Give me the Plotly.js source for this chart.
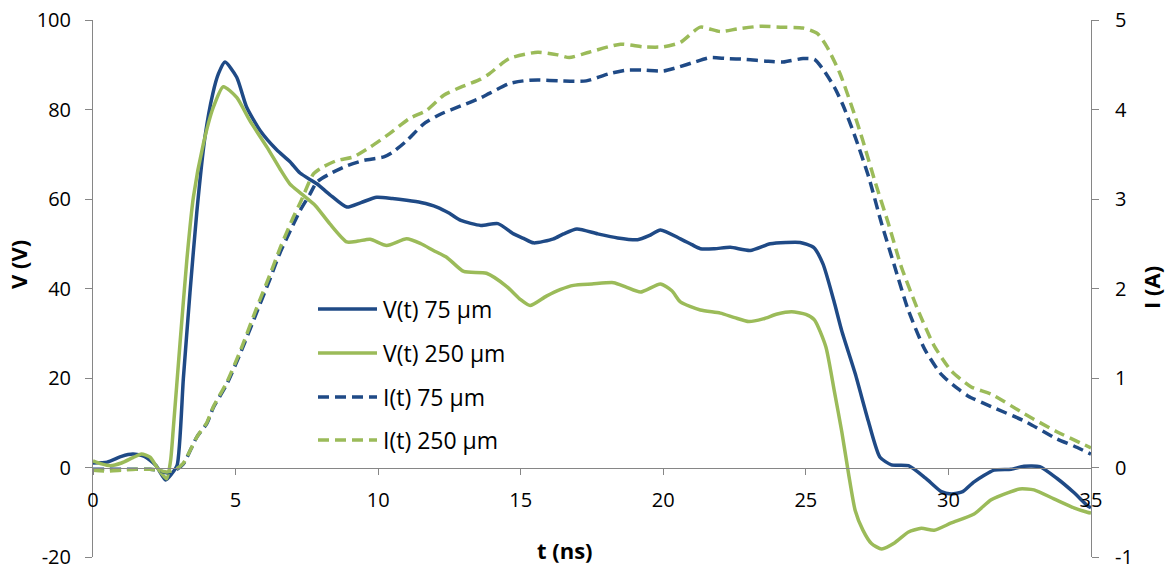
<!DOCTYPE html>
<html>
<head>
<meta charset="utf-8">
<script src="https://cdn.plot.ly/plotly-3.0.1.min.js"></script>
<style>html,body{margin:0;padding:0;background:#fff;}#chart{width:1166px;height:570px;}</style>
</head>
<body>
<div id="chart"></div>
<script>
// V(t) 75 µm
const tV75 = [0, 0.5, 1.0, 1.4, 1.8, 2.2, 2.55, 2.75, 2.95, 3.17, 3.4, 3.64, 3.93, 4.2, 4.4, 4.63, 5.04, 5.39, 5.86, 6.44, 6.9, 7.26, 7.85, 8.3, 8.9, 9.4, 9.95, 10.5, 11.0, 11.5, 12.06, 12.5, 12.9, 13.6, 14.2, 14.75, 15.1, 15.45, 16.15, 16.5, 16.97, 17.7, 18.4, 19.1, 19.5, 19.9, 20.6, 21.0, 21.3, 21.8, 22.35, 23.05, 23.75, 24.3, 24.8, 25.27, 25.6, 25.98, 26.26, 26.73, 27.19, 27.6, 28.0, 28.6, 29.2, 29.75, 30.1, 30.5, 30.9, 31.6, 32.2, 32.65, 33.2, 33.8, 34.4, 34.87, 35];
const V75 = [1.0, 1.2, 2.5, 3.0, 2.5, 0.5, -2.8, -1.5, 0.5, 20, 39, 57, 74, 83.5, 88, 90.6, 87.2, 80.5, 75.3, 71.0, 68.4, 65.8, 63.4, 61.0, 58.2, 59.2, 60.4, 60.1, 59.7, 59.2, 58.2, 56.8, 55.2, 54.1, 54.5, 52.2, 51.2, 50.2, 51.1, 52.2, 53.3, 52.2, 51.3, 50.9, 51.8, 53.1, 51.1, 49.8, 48.9, 48.9, 49.2, 48.5, 50.0, 50.3, 50.3, 49.2, 45.5, 37.3, 30.5, 21.0, 10.4, 2.3, 0.6, 0.4, -2.4, -5.4, -5.9, -5.4, -3.2, -0.6, -0.4, 0.3, 0.2, -2.4, -5.6, -8.5, -9.0];

// V(t) 250 µm
const tV250 = [0, 0.3, 0.6, 1.0, 1.4, 1.7, 2.0, 2.25, 2.58, 2.72, 2.82, 3.05, 3.29, 3.52, 3.87, 4.22, 4.57, 5.04, 5.5, 6.1, 6.56, 6.9, 7.3, 7.8, 8.3, 8.9, 9.3, 9.72, 10.3, 11.0, 11.5, 11.94, 12.4, 13.0, 13.8, 14.5, 15.0, 15.33, 15.9, 16.4, 16.85, 17.5, 18.26, 18.7, 19.2, 19.9, 20.3, 20.6, 21.3, 22.0, 22.5, 23.0, 23.5, 24.0, 24.5, 25.0, 25.3, 25.7, 26.0, 26.26, 26.5, 26.73, 27.0, 27.3, 27.66, 28.12, 28.6, 29.05, 29.5, 30.1, 30.9, 31.5, 32.1, 32.5, 33.0, 33.7, 34.4, 34.87, 35];
const V250 = [1.5, 0.8, 0.4, 1.0, 2.2, 3.0, 2.3, 0.0, -2.5, 1.5, 9, 27.6, 46.3, 60.4, 72.3, 80.5, 85.1, 82.7, 77.5, 71.6, 66.7, 63.4, 61.2, 58.5, 54.5, 50.4, 50.6, 51.0, 49.6, 51.1, 50.0, 48.5, 47.0, 43.8, 43.4, 40.5, 37.5, 36.2, 38.3, 39.8, 40.7, 41.0, 41.3, 40.3, 39.2, 41.0, 39.5, 37.0, 35.2, 34.5, 33.5, 32.6, 33.2, 34.3, 34.8, 34.2, 33.0, 27.0, 17.0, 8.0, -1.5, -9.6, -14.0, -17.0, -18.2, -16.8, -14.4, -13.6, -14.0, -12.4, -10.4, -7.2, -5.6, -4.8, -5.0, -7.0, -9.0, -10.0, -10.2];

// I(t) 75 µm
const tI75 = [0, 0.5, 1.0, 1.5, 2.0, 2.3, 2.6, 2.9, 3.17, 3.64, 3.99, 4.22, 4.69, 5.2, 5.7, 6.2, 6.56, 7.0, 7.26, 7.6, 7.85, 8.3, 8.9, 9.48, 10.2, 10.5, 11.0, 11.6, 12.2, 12.9, 13.6, 13.9, 14.6, 15.1, 15.6, 16.4, 17.3, 18.1, 18.7, 19.3, 20.0, 20.5, 21.1, 21.65, 22.2, 22.9, 23.6, 24.2, 24.9, 25.3, 25.6, 26.0, 26.3, 26.7, 27.2, 27.66, 28.12, 28.59, 29.17, 29.75, 30.33, 30.68, 31.5, 32.66, 33.8, 34.4, 35];
const I75 = [-0.02, -0.02, -0.02, -0.02, -0.02, -0.03, -0.06, -0.03, 0.04, 0.34, 0.49, 0.67, 0.93, 1.3, 1.7, 2.1, 2.4, 2.7, 2.87, 3.05, 3.19, 3.28, 3.37, 3.43, 3.47, 3.52, 3.65, 3.84, 3.95, 4.04, 4.13, 4.18, 4.29, 4.32, 4.33, 4.32, 4.32, 4.40, 4.44, 4.44, 4.43, 4.47, 4.53, 4.58, 4.57, 4.56, 4.54, 4.53, 4.57, 4.56, 4.45, 4.25, 4.05, 3.72, 3.25, 2.72, 2.24, 1.76, 1.32, 1.04, 0.88, 0.80, 0.68, 0.52, 0.32, 0.24, 0.15];

// I(t) 250 µm
const tI250 = [0, 0.5, 1.0, 1.5, 2.0, 2.3, 2.6, 2.9, 3.17, 3.64, 3.99, 4.22, 4.69, 5.2, 5.7, 6.2, 6.56, 7.0, 7.3, 7.73, 8.08, 8.55, 9.13, 9.72, 10.4, 11.1, 11.7, 12.3, 12.9, 13.6, 13.9, 14.6, 15.6, 16.3, 16.7, 17.4, 18.5, 19.3, 20.0, 20.6, 21.3, 22.0, 22.6, 23.4, 24.1, 24.9, 25.4, 25.74, 26.2, 26.7, 27.0, 27.42, 27.9, 28.35, 28.93, 29.5, 30.1, 30.8, 31.5, 32.66, 33.8, 35];
const I250 = [-0.03, -0.04, -0.03, -0.02, -0.02, -0.03, -0.05, -0.02, 0.05, 0.34, 0.5, 0.68, 0.95, 1.33, 1.75, 2.15, 2.45, 2.78, 2.98, 3.28, 3.36, 3.43, 3.47, 3.58, 3.73, 3.9, 3.99, 4.16, 4.25, 4.34, 4.4, 4.57, 4.64, 4.61, 4.58, 4.64, 4.73, 4.7, 4.7, 4.75, 4.92, 4.87, 4.9, 4.93, 4.92, 4.91, 4.85, 4.70, 4.4, 3.95, 3.65, 3.2, 2.72, 2.24, 1.76, 1.36, 1.08, 0.9, 0.82, 0.6, 0.4, 0.22];

const names = ["V(t) 75 µm", "V(t) 250 µm", "I(t) 75 µm", "I(t) 250 µm"];
const xTicks = [0, 5, 10, 15, 20, 25, 30, 35];
const vTicks = [-20, 0, 20, 40, 60, 80, 100];
const iTicks = [-1, 0, 1, 2, 3, 4, 5];

const BLUE = "#1F4A86";
const GREEN = "#9BBB59";
const FONT = "Open Sans, Liberation Sans, sans-serif";
const DASH = "11px,6px";
const styles = [
  {color: BLUE, dash: "solid"},
  {color: GREEN, dash: "solid"},
  {color: BLUE, dash: DASH},
  {color: GREEN, dash: DASH}
];
const series = [
  {x: tV75, y: V75, axis: "y"},
  {x: tV250, y: V250, axis: "y"},
  {x: tI75, y: I75, axis: "y2"},
  {x: tI250, y: I250, axis: "y2"}
];

// draw current (dashed) first, voltage on top
const order = [2, 3, 0, 1];
const traces = order.map(i => ({
  x: series[i].x, y: series[i].y, yaxis: series[i].axis, name: names[i], mode: "lines",
  showlegend: false,
  line: {color: styles[i].color, width: 3.5, dash: styles[i].dash, shape: "spline", smoothing: 0.6}
}));

// legend drawn as sample lines + text (paper coordinates)
const plotL = 93, plotW = 998, plotB = 557, plotH = 537;
const px2x = p => (p - plotL) / plotW;
const py2y = p => (plotB - p) / plotH;
const legendRows = [309, 353, 397, 440];
const shapes = names.map((n, i) => ({
  type: "line", xref: "paper", yref: "paper",
  x0: px2x(318), x1: px2x(377), y0: py2y(legendRows[i]), y1: py2y(legendRows[i]),
  line: {color: styles[i].color, width: 3.5, dash: styles[i].dash}
}));
const legendText = names.map((n, i) => ({
  text: n, xref: "paper", yref: "paper", x: px2x(381), y: py2y(legendRows[i]),
  xanchor: "left", yanchor: "middle", showarrow: false, font: {size: 23, color: "#000"}
}));

const axCol = "#868686";
const layout = {
  width: 1166, height: 570,
  margin: {l: 93, r: 75, t: 20, b: 13, pad: 0},
  paper_bgcolor: "#fff", plot_bgcolor: "#fff",
  font: {family: FONT, size: 20, color: "#000"},
  showlegend: false,
  xaxis: {range: [0, 35], tickvals: xTicks, ticktext: xTicks.map(String), anchor: "free", position: 1/6,
          showline: true, linecolor: axCol, linewidth: 1, ticks: "outside", ticklen: 6, tickcolor: axCol,
          showgrid: false, zeroline: false, ticklabelstandoff: 8, tickfont: {size: 20}},
  yaxis: {range: [-20, 100], tickvals: vTicks, ticktext: vTicks.map(String), showline: true, linecolor: axCol,
          linewidth: 1, ticks: "outside", ticklen: 7, tickcolor: axCol, showgrid: false, zeroline: false,
          ticklabelstandoff: 10, tickfont: {size: 20}},
  yaxis2: {range: [-1, 5], tickvals: iTicks, ticktext: iTicks.map(String), overlaying: "y", side: "right",
           showline: true, linecolor: axCol, linewidth: 1, ticks: "outside", ticklen: 7, tickcolor: axCol,
           showgrid: false, zeroline: false, ticklabelstandoff: 12, tickfont: {size: 20}},
  shapes: shapes,
  annotations: [
    {text: "<b>V (V)</b>", xref: "paper", yref: "paper", x: px2x(18), y: py2y(265), textangle: -90,
     showarrow: false, xanchor: "center", yanchor: "middle", font: {size: 22}},
    {text: "<b>I (A)</b>", xref: "paper", yref: "paper", x: px2x(1151), y: py2y(288), textangle: -90,
     showarrow: false, xanchor: "center", yanchor: "middle", font: {size: 22}},
    {text: "<b>t (ns)</b>", xref: "paper", yref: "paper", x: px2x(565), y: py2y(550),
     showarrow: false, xanchor: "center", yanchor: "middle", font: {size: 22}}
  ].concat(legendText)
};

Plotly.newPlot("chart", traces, layout, {displayModeBar: false, staticPlot: true});
</script>
</body>
</html>
